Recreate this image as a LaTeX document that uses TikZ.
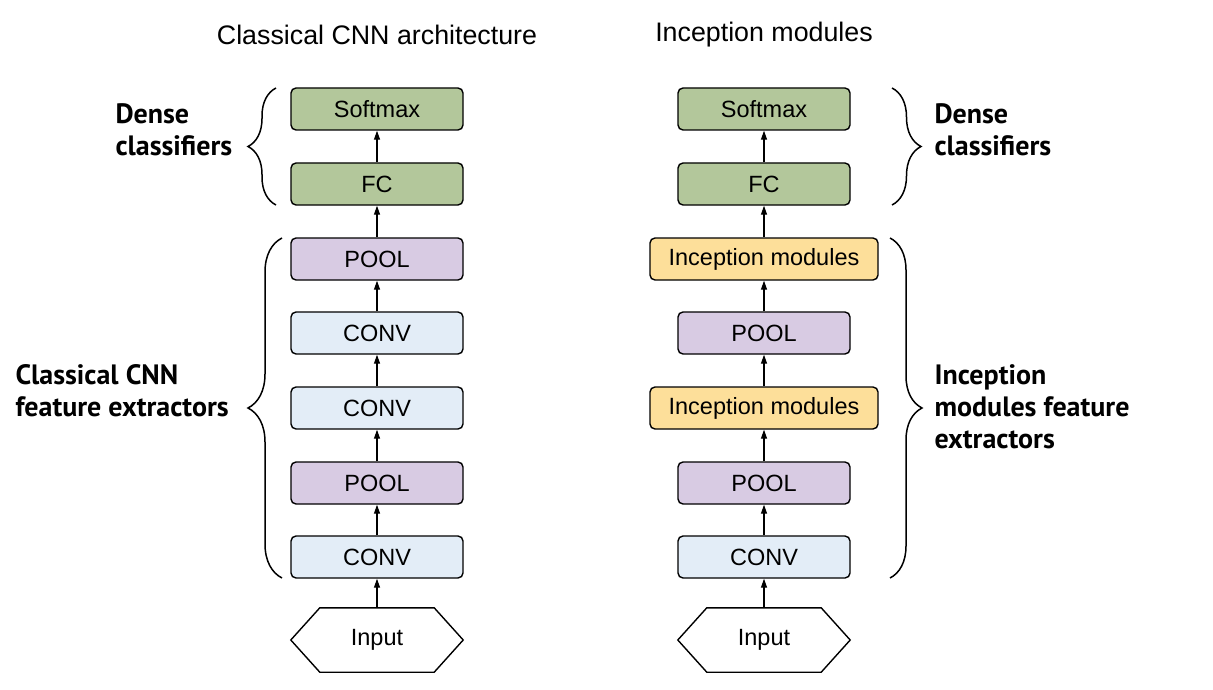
\documentclass[tikz,border=0pt]{standalone}
\usepackage{fontspec}
\setmainfont{Liberation Sans}
\newfontfamily\labfont{PT Sans}
\usetikzlibrary{arrows.meta,decorations.pathreplacing,calc}
\definecolor{cgreen}{HTML}{B3C79B}
\definecolor{cpurple}{HTML}{D8CBE3}
\definecolor{cblue}{HTML}{E3EDF7}
\definecolor{cyellow}{HTML}{FDDF9A}
\tikzset{
  blk/.style={draw=black, line width=1.4pt, rounded corners=5pt, minimum width=172pt, minimum height=42pt, inner sep=0pt, font=\fontsize{23.5}{25}\selectfont},
  gbox/.style={blk, fill=cgreen},
  pbox/.style={blk, fill=cpurple},
  bbox/.style={blk, fill=cblue},
  ybox/.style={blk, fill=cyellow, minimum width=228pt},
  inp/.style={minimum width=172pt, minimum height=64pt, inner sep=0pt, font=\fontsize{23.5}{25}\selectfont},
  hexline/.style={draw=black, line width=1.4pt},
  conn/.style={line width=1.2pt, -{Triangle[length=9pt,width=6pt]}},
  brc/.style={line width=1.5pt, decorate},
  lab/.style={font=\labfont\bfseries\fontsize{28}{32}\selectfont, align=left},
  ttl/.style={font=\fontsize{26.8}{29}\selectfont}
}
\begin{document}
\begin{tikzpicture}[x=1pt,y=-1pt]
\useasboundingbox (0,0) rectangle (1213,690);
% titles
\node[ttl] (t1) at (377,35) {Classical CNN architecture};
\node[ttl] (t2) at (764,35) {Inception modules};
% left column
\node[gbox] (ls) at (377,109) {Softmax};
\node[gbox] (lf) at (377,184) {FC};
\node[pbox] (lp2) at (377,259) {POOL};
\node[bbox] (lc3) at (377,333) {CONV};
\node[bbox] (lc2) at (377,408) {CONV};
\node[pbox] (lp1) at (377,483) {POOL};
\node[bbox] (lc1) at (377,557) {CONV};
\node[inp] (li) at (377,640) {Input};
\draw[hexline] (li.west) -- ($(li.north west)+(29,0)$) -- ($(li.north east)+(-29,0)$) -- (li.east) -- ($(li.south east)+(-29,0)$) -- ($(li.south west)+(29,0)$) -- cycle;
\draw[conn] (li.north) -- (lc1.south);
\draw[conn] (lc1.north) -- (lp1.south);
\draw[conn] (lp1.north) -- (lc2.south);
\draw[conn] (lc2.north) -- (lc3.south);
\draw[conn] (lc3.north) -- (lp2.south);
\draw[conn] (lp2.north) -- (lf.south);
\draw[conn] (lf.north) -- (ls.south);
% right column
\node[gbox] (rs) at (764,109) {Softmax};
\node[gbox] (rf) at (764,184) {FC};
\node[ybox] (ri2) at (764,259) {Inception modules};
\node[pbox] (rp2) at (764,333) {POOL};
\node[ybox] (ri1) at (764,408) {Inception modules};
\node[pbox] (rp1) at (764,483) {POOL};
\node[bbox] (rc1) at (764,557) {CONV};
\node[inp] (ri) at (764,640) {Input};
\draw[hexline] (ri.west) -- ($(ri.north west)+(29,0)$) -- ($(ri.north east)+(-29,0)$) -- (ri.east) -- ($(ri.south east)+(-29,0)$) -- ($(ri.south west)+(29,0)$) -- cycle;
\draw[conn] (ri.north) -- (rc1.south);
\draw[conn] (rc1.north) -- (rp1.south);
\draw[conn] (rp1.north) -- (ri1.south);
\draw[conn] (ri1.north) -- (rp2.south);
\draw[conn] (rp2.north) -- (ri2.south);
\draw[conn] (ri2.north) -- (rf.south);
\draw[conn] (rf.north) -- (rs.south);
% braces
\coordinate (lb1a) at (276,205); \coordinate (lb1b) at (276,88);
\draw[brc, decoration={brace,amplitude=28pt}] (lb1a) -- (lb1b);
\coordinate (lb2a) at (282,578); \coordinate (lb2b) at (282,238);
\draw[brc, decoration={brace,amplitude=34pt}] (lb2a) -- (lb2b);
\coordinate (rb1a) at (892,88); \coordinate (rb1b) at (892,205);
\draw[brc, decoration={brace,amplitude=29pt}] (rb1a) -- (rb1b);
\coordinate (rb2a) at (890,238); \coordinate (rb2b) at (890,578);
\draw[brc, decoration={brace,amplitude=32pt}] (rb2a) -- (rb2b);
% labels
\node[lab, anchor=west] (ld) at (112,130) {Dense\\classifiers};
\node[lab, anchor=west] (lc) at (12,391) {Classical CNN\\feature extractors};
\node[lab, anchor=west] (rd) at (931,130) {Dense\\classifiers};
\node[lab, anchor=west] (rl) at (931,407) {Inception\\modules feature\\extractors};
\end{tikzpicture}
\end{document}
